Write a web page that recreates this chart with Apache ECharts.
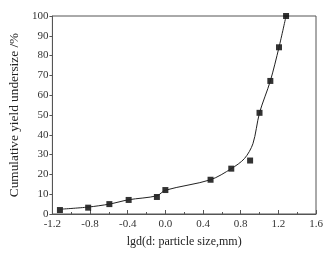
<!DOCTYPE html>
<html>
<head>
<meta charset="utf-8">
<script src="https://cdn.jsdelivr.net/npm/echarts@6/dist/echarts.min.js"></script>
<style>
  html, body { margin: 0; padding: 0; background: #fff; }
  #chart { width: 332px; height: 253px; }
</style>
</head>
<body>
<div id="chart"></div>
<script>
// measured points (lg d, cumulative %)
const pointX = [-1.12, -0.82, -0.595, -0.39, -0.09, 0.0, 0.48, 0.70, 0.90, 1.0, 1.115, 1.207, 1.282];
const pointY = [2.0, 3.2, 5.0, 7.1, 8.6, 12.1, 17.3, 22.9, 27.0, 51.1, 67.2, 84.2, 100];

// fitted curve
const curveX = [-1.12, -0.82, -0.595, -0.39, -0.09, 0.0, 0.48, 0.70, 0.84, 0.93, 1.0, 1.115, 1.207, 1.282];
const curveY = [2.4, 3.5, 5.0, 7.2, 9.2, 12.0, 17.3, 22.9, 28.0, 35.5, 51.1, 67.2, 84.2, 100];

const xTicks = [-1.2, -0.8, -0.4, 0.0, 0.4, 0.8, 1.2, 1.6];

const chart = echarts.init(document.getElementById("chart"));
const axisColor = "#555";
const font = "Liberation Serif";

chart.setOption({
  animation: false,
  grid: { left: 43, right: 16, top: 16, bottom: 36, show: true, borderColor: axisColor, borderWidth: 1 },
  xAxis: {
    type: "value",
    min: -1.2,
    max: 1.6,
    interval: 0.4,
    name: "lgd(d: particle size,mm)",
    nameLocation: "middle",
    nameGap: 22,
    nameTextStyle: { fontFamily: font, fontSize: 12, color: "#222" },
    axisLine: { onZero: false, lineStyle: { color: axisColor } },
    axisTick: { inside: true, length: 4, lineStyle: { color: axisColor } },
    minorTick: { show: true, splitNumber: 2, length: 2, lineStyle: { color: axisColor } },
    splitLine: { show: false },
    axisLabel: {
      fontFamily: font, fontSize: 11, color: "#333", margin: 5,
      formatter: (v) => xTicks.find((t) => Math.abs(t - v) < 1e-6).toFixed(1)
    }
  },
  yAxis: {
    type: "value",
    min: 0,
    max: 100,
    interval: 10,
    name: "Cumulative yield undersize /%",
    nameLocation: "middle",
    nameGap: 26,
    nameTextStyle: { fontFamily: font, fontSize: 13.3, color: "#222" },
    axisLine: { show: true, onZero: false, lineStyle: { color: axisColor } },
    axisTick: { show: true, length: 3, lineStyle: { color: axisColor } },
    splitLine: { show: false },
    axisLabel: { fontFamily: font, fontSize: 11, color: "#333", margin: 4 }
  },
  series: [
    {
      type: "line",
      data: curveX.map((x, i) => [x, curveY[i]]),
      smooth: 0.3,
      showSymbol: false,
      lineStyle: { color: "#222", width: 1 }
    },
    {
      type: "scatter",
      data: pointX.map((x, i) => [x, pointY[i]]),
      symbol: "rect",
      symbolSize: 6,
      itemStyle: { color: "#000" }
    }
  ]
});
</script>
</body>
</html>
